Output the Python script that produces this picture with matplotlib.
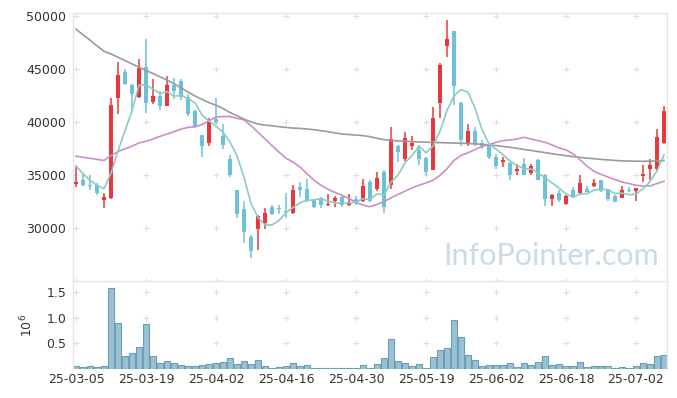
import numpy as np
import matplotlib
matplotlib.use("Agg")
import matplotlib.pyplot as plt

# daily OHLC (KRW), one row per trading day, 25-03-05 .. 25-07-08
opens = [34100, 34550, 34050, 34000, 32650, 32850, 42200, 44650, 43500, 42350,
         45200, 41850, 42400, 41500, 43450, 43850, 42300, 41000, 38750, 38050,
         40300, 38700, 36500, 33600, 31750, 29150, 29900, 30450, 32000, 31850,
         31600, 31450, 33850, 33650, 32600, 32700, 32150, 32550, 32900, 32150,
         32700, 32550, 34350, 33650, 35300, 34050, 37750, 36450, 37750, 37300,
         36600, 35500, 41750, 47100, 48550, 41800, 38000, 39100, 38050, 37900,
         36650, 36200, 36150, 35400, 36050, 35200, 36400, 35000, 32700, 33300,
         32250, 33600, 33250, 33700, 33950, 34500, 33650, 33000, 32850, 33600,
         33450, 34850, 35550, 35550, 38000]
highs = [35750, 35100, 35000, 34200, 33250, 42280, 45640, 44990, 43550, 45900,
         47800, 44000, 42900, 44350, 44100, 44000, 42600, 41100, 38800, 40400,
         42250, 39800, 36830, 33620, 32500, 29350, 31220, 31900, 32150, 32200,
         33300, 34000, 34350, 34600, 32700, 32880, 33200, 33000, 33100, 33200,
         33000, 34650, 34500, 35250, 35500, 39550, 37800, 39000, 38650, 37800,
         36650, 41350, 45500, 49600, 48600, 41850, 39800, 39550, 38250, 37950,
         36980, 36650, 36200, 36050, 36580, 36050, 36450, 35100, 33200, 33550,
         33100, 33850, 35000, 33930, 34580, 34500, 33700, 33100, 33930, 33880,
         33800, 35900, 36500, 39300, 41500]
lows = [33850, 33950, 33550, 33100, 31900, 32750, 40780, 43430, 40900, 42250,
        40850, 41700, 41120, 41450, 42120, 42100, 40570, 39380, 36650, 37760,
        39780, 37450, 34800, 30970, 28550, 27150, 27900, 29900, 31220, 31280,
        30900, 31280, 32950, 32400, 31850, 31850, 32100, 32000, 32000, 32100,
        32150, 32450, 32450, 33450, 31450, 33650, 36200, 36350, 37300, 35900,
        35000, 35450, 40350, 46150, 41550, 37750, 37700, 37750, 37450, 36500,
        35580, 35750, 34500, 35000, 34950, 34950, 34500, 32100, 32100, 32450,
        32150, 32850, 33200, 33350, 33880, 33400, 32550, 32400, 32780, 33350,
        32550, 34330, 34500, 35350, 37900]
closes = [34300, 34000, 33950, 33300, 32950, 41550, 44450, 43550, 42600, 45100,
          41750, 42400, 41500, 43450, 42900, 42300, 40750, 39550, 37750, 40000,
          39950, 37850, 34950, 31300, 29650, 27850, 31150, 31450, 31300, 31800,
          31500, 33600, 33600, 32550, 31950, 32200, 32300, 32850, 32150, 32400,
          32400, 33950, 32550, 34700, 32000, 38400, 37200, 38450, 38000, 36500,
          35250, 40400, 45400, 47800, 43350, 38250, 39100, 37900, 37700, 36650,
          35800, 36400, 35000, 35600, 35000, 35800, 34550, 32700, 33150, 32600,
          33000, 32950, 34250, 33400, 34200, 33450, 32700, 32450, 33600, 33450,
          33800, 35100, 35900, 38600, 41000]
volumes = [63000, 30000, 50000, 30000, 63000, 1570000, 886000, 245000, 317000, 420000,
           866000, 258000, 120000, 160000, 120000, 80000, 63000, 63000, 80000, 100000,
           120000, 140000, 220000, 100000, 147000, 100000, 180000, 60000, 25000, 40000,
           60000, 120000, 60000, 80000, 25000, 10000, 25000, 25000, 25000, 25000,
           10000, 80000, 25000, 100000, 220000, 590000, 147000, 120000, 60000, 100000,
           25000, 240000, 360000, 400000, 945000, 615000, 265000, 170000, 55000, 75000,
           75000, 70000, 125000, 35000, 125000, 70000, 145000, 245000, 70000, 90000,
           50000, 50000, 145000, 35000, 50000, 50000, 50000, 15000, 30000, 15000,
           50000, 125000, 105000, 245000, 265000]

# moving averages
ma5 = [35850, 35100, 34500, 34000, 33700, 35150, 37240, 39160, 41020, 43450,
       43490, 43080, 42670, 42840, 42400, 42510, 42180, 41790, 40650, 40070,
       39600, 39020, 38100, 36810, 34740, 32320, 30980, 30280, 30280, 30710,
       31440, 31930, 32360, 32610, 32640, 32780, 32520, 32370, 32290, 32380,
       32420, 32750, 32690, 33200, 33120, 34320, 34970, 36150, 36810, 37710,
       37080, 37720, 39110, 41070, 42440, 43040, 42780, 41280, 39260, 37920,
       37430, 36890, 36310, 35890, 35560, 35560, 35190, 34730, 34240, 33760,
       33200, 32880, 33190, 33240, 33560, 33650, 33600, 33240, 33280, 33130,
       33200, 33680, 34370, 35370, 36880]
ma20 = [36760, 36660, 36560, 36460, 36360, 36830, 37200, 37450, 37700, 38010,
        38170, 38380, 38630, 38850, 39070, 39320, 39470, 39540, 39750, 40100,
        40440, 40500, 40500, 40320, 40190, 39630, 39010, 38380, 37760, 37140,
        36580, 36200, 35740, 35110, 34490, 34020, 33650, 33340, 33090, 32780,
        32400, 32150, 32000, 32220, 32470, 32840, 33150, 33460, 33770, 34020,
        34240, 34490, 34960, 35580, 36360, 36830, 37080, 37390, 37670, 37850,
        38070, 38230, 38290, 38380, 38540, 38380, 38230, 38070, 37820, 37540,
        37360, 36980, 36420, 35830, 35330, 35050, 34800, 34550, 34330, 34180,
        34020, 33960, 33960, 34180, 34400]
ma60 = [48730, 48200, 47700, 47150, 46640, 46390, 46080, 45770, 45460, 45140,
        44830, 44550, 44240, 43930, 43590, 43210, 42810, 42430, 42120, 41810,
        41560, 41250, 40880, 40570, 40250, 40000, 39790, 39690, 39630, 39540,
        39470, 39410, 39380, 39320, 39260, 39160, 39070, 38950, 38850, 38800,
        38750, 38700, 38600, 38450, 38320, 38250, 38200, 38170, 38130, 38100,
        38080, 38060, 38040, 38020, 38000, 37980, 37950, 37920, 37880, 37820,
        37760, 37680, 37600, 37500, 37400, 37300, 37200, 37100, 37000, 36900,
        36800, 36720, 36650, 36580, 36520, 36460, 36410, 36360, 36320, 36300,
        36290, 36280, 36290, 36310, 36360]

date_labels = ["25-03-05", "25-03-19", "25-04-02", "25-04-16", "25-04-30",
               "25-05-19", "25-06-02", "25-06-18", "25-07-02"]
price_ticks = [30000, 35000, 40000, 45000, 50000]
vol_ticks = [500000, 1000000, 1500000]

UP = "#e8383d"
DOWN = "#6cc1d9"
SPINE = "#e4e4e4"
CROSS = "#dedede"

o, h, l, c = map(np.array, (opens, highs, lows, closes))
x = np.arange(len(c))
cols = np.where(c >= o, UP, DOWN)
xt = np.arange(0, 10 * len(date_labels), 10)

fig = plt.figure(figsize=(6.77, 3.98), dpi=100)
ax = fig.add_axes([73 / 677, 1 - 281 / 398, 594 / 677, 268.5 / 398])
axv = fig.add_axes([73 / 677, 1 - 369 / 398, 594 / 677, 88 / 398])

for a in (ax, axv):
    a.set_xlim(-0.43, len(c) - 0.57)
    for s in ("top", "left", "right"):
        a.spines[s].set_color(SPINE)
        a.spines[s].set_linewidth(1.0)
    a.spines["bottom"].set_visible(False)
    a.tick_params(length=0, labelsize=9, colors="#333333")

# grid shown as little crosses
gx, gy = np.meshgrid(xt, price_ticks + [25000])
ax.plot(gx.ravel(), gy.ravel(), "+", color=CROSS, ms=5, mew=0.8, zorder=0, clip_on=False)
gx, gy = np.meshgrid(xt, vol_ticks)
axv.plot(gx.ravel(), gy.ravel(), "+", color=CROSS, ms=5, mew=0.8, zorder=0)

# candles
ax.vlines(x, l, h, color=cols, lw=1.1, zorder=2)
body = np.maximum(np.abs(c - o), 60)
ax.bar(x, body, 0.7, bottom=np.minimum(o, c), color=cols, lw=0, zorder=3)

ax.plot(x, ma60, color="#9a9a9a", lw=1.2, zorder=4)
ax.plot(x, ma20, color="#cc8ec8", lw=1.2, zorder=4)
ax.plot(x, ma5, color="#8ccbc2", lw=1.2, zorder=4)

ax.set_ylim(25000, 50300)
ax.set_yticks(price_ticks)
ax.set_xticks([])
ax.tick_params(axis="y", pad=5)

# volume
axv.bar(x, volumes, 0.95, color="#9ac1d2", edgecolor="#6b9db7", lw=0.8, zorder=2)
axv.set_ylim(0, 1710000)
axv.set_yticks(vol_ticks)
axv.set_yticklabels([f"{v / 1e6:.1f}" for v in vol_ticks])
axv.set_xticks(xt)
axv.set_xticklabels(date_labels)
axv.tick_params(axis="y", pad=5)
axv.tick_params(axis="x", pad=3)
axv.set_ylabel(r"$10^6$", fontsize=9, color="#333333", labelpad=8)

fig.text(551 / 677, 1 - 256 / 398, "InfoPointer.com", family="Lato", fontsize=22,
         color="#c9dce6", ha="center", va="center", zorder=10)

fig.savefig("out.png", dpi=100)
